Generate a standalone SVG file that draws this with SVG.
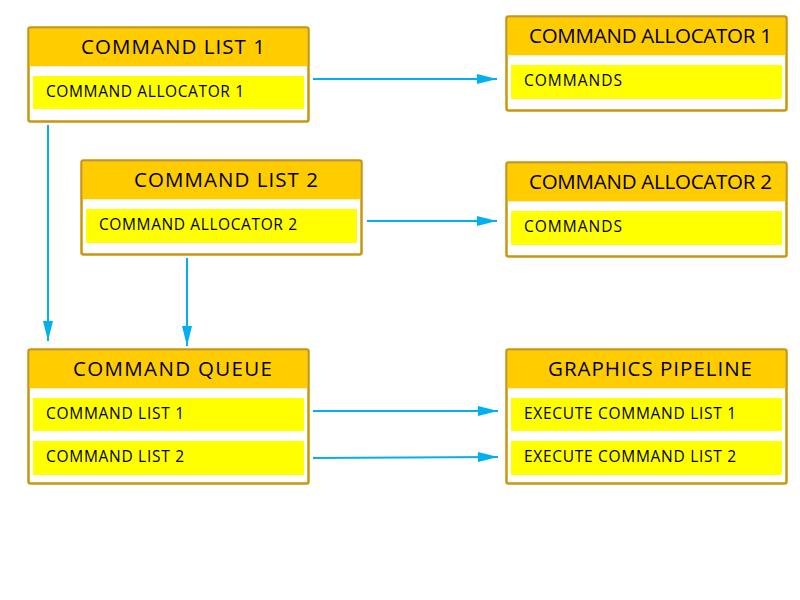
<svg xmlns="http://www.w3.org/2000/svg" width="800" height="600" viewBox="0 0 800 600">
<style>
.box{fill:#FFFFFF;stroke:#C9960C;stroke-width:2.5}
.hdr{fill:#FFCC00}
.item{fill:#FFFF00}
.title{font-family:"Open Sans","Noto Sans",sans-serif;font-size:20.5px;fill:#000;text-anchor:middle}
.txt{font-family:"Open Sans","Noto Sans",sans-serif;font-size:15.5px;fill:#000}
.conn{stroke:#00B0F0;stroke-width:2;fill:none;marker-end:url(#arr)}
</style>
<defs>
<marker id="arr" markerUnits="userSpaceOnUse" markerWidth="20" markerHeight="12" refX="20" refY="6" orient="auto">
<path d="M0,1 L20,6 L0,11 Z" fill="#00B0F0"/>
</marker>
</defs>
<rect width="800" height="600" fill="#FFFFFF"/>

<g id="command-list-1">
<rect class="box" x="28.5" y="27.5" width="280" height="94" rx="2"/>
<rect class="hdr" x="29.75" y="28.75" width="277.5" height="37.5"/>
<rect class="item" x="33" y="76" width="271" height="33"/>
<text class="title" x="173" y="54" textLength="184" lengthAdjust="spacing">COMMAND LIST 1</text>
<text class="txt" x="46" y="97" textLength="198" lengthAdjust="spacing">COMMAND ALLOCATOR 1</text>
</g>

<g id="command-allocator-1">
<rect class="box" x="506.5" y="16.5" width="280" height="94" rx="2"/>
<rect class="hdr" x="507.75" y="17.75" width="277.5" height="37.5"/>
<rect class="item" x="511" y="65" width="271" height="34"/>
<text class="title" x="650.5" y="43" textLength="243" lengthAdjust="spacing">COMMAND ALLOCATOR 1</text>
<text class="txt" x="524" y="86" textLength="98" lengthAdjust="spacing">COMMANDS</text>
</g>

<g id="command-list-2">
<rect class="box" x="81.5" y="160.5" width="280" height="94" rx="2"/>
<rect class="hdr" x="82.75" y="161.75" width="277.5" height="37.5"/>
<rect class="item" x="86" y="209" width="271" height="34"/>
<text class="title" x="226" y="187" textLength="184" lengthAdjust="spacing">COMMAND LIST 2</text>
<text class="txt" x="99" y="230" textLength="198" lengthAdjust="spacing">COMMAND ALLOCATOR 2</text>
</g>

<g id="command-allocator-2">
<rect class="box" x="506.5" y="162.5" width="280" height="94" rx="2"/>
<rect class="hdr" x="507.75" y="163.75" width="277.5" height="37.5"/>
<rect class="item" x="511" y="211" width="271" height="34"/>
<text class="title" x="650.5" y="189" textLength="243" lengthAdjust="spacing">COMMAND ALLOCATOR 2</text>
<text class="txt" x="524" y="232" textLength="98" lengthAdjust="spacing">COMMANDS</text>
</g>

<g id="command-queue">
<rect class="box" x="28.5" y="349.5" width="280" height="134" rx="2"/>
<rect class="hdr" x="29.75" y="350.75" width="277.5" height="37.5"/>
<rect class="item" x="33" y="398" width="271" height="33"/>
<rect class="item" x="33" y="441" width="271" height="34"/>
<text class="title" x="172.5" y="376" textLength="199" lengthAdjust="spacing">COMMAND QUEUE</text>
<text class="txt" x="46" y="419" textLength="138" lengthAdjust="spacing">COMMAND LIST 1</text>
<text class="txt" x="46" y="462" textLength="138" lengthAdjust="spacing">COMMAND LIST 2</text>
</g>

<g id="graphics-pipeline">
<rect class="box" x="506.5" y="349.5" width="280" height="134" rx="2"/>
<rect class="hdr" x="507.75" y="350.75" width="277.5" height="37.5"/>
<rect class="item" x="511" y="398" width="271" height="33"/>
<rect class="item" x="511" y="441" width="271" height="34"/>
<text class="title" x="650" y="376" textLength="204" lengthAdjust="spacing">GRAPHICS PIPELINE</text>
<text class="txt" x="524" y="419" textLength="212" lengthAdjust="spacing">EXECUTE COMMAND LIST 1</text>
<text class="txt" x="524" y="462" textLength="212" lengthAdjust="spacing">EXECUTE COMMAND LIST 2</text>
</g>

<g id="connectors">
<line class="conn" x1="313" y1="79" x2="497" y2="79"/>
<line class="conn" x1="367" y1="221" x2="497" y2="221"/>
<line class="conn" x1="48" y1="125" x2="48" y2="341"/>
<line class="conn" x1="187" y1="258" x2="187" y2="346"/>
<line class="conn" x1="313" y1="411" x2="498" y2="411"/>
<line class="conn" x1="313" y1="458" x2="498" y2="457"/>
</g>
</svg>
